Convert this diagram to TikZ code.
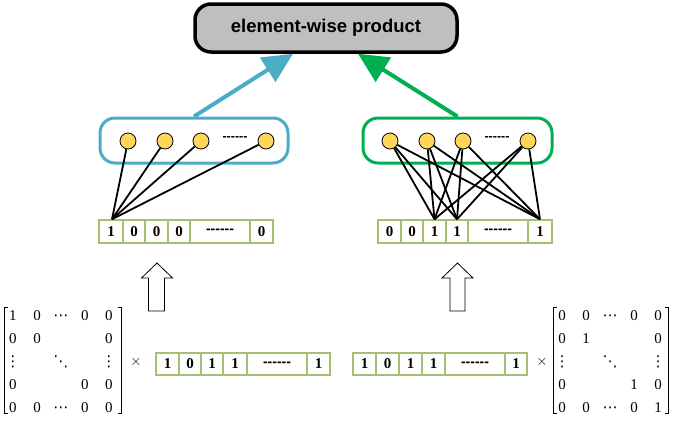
\documentclass[tikz,border=0pt]{standalone}
\usepackage{fontspec}
\setmainfont{Liberation Serif}
\newfontfamily\arialfont{Liberation Sans}
\newfontfamily\symfont{DejaVu Sans}
\usetikzlibrary{arrows.meta,matrix}
\definecolor{bluec}{HTML}{4BACC6}
\definecolor{greenc}{HTML}{00B050}
\definecolor{vecc}{HTML}{A3C170}
\definecolor{neuronc}{HTML}{FFD55A}
\definecolor{titlefill}{HTML}{BFBFBF}
\newcommand{\myvdots}{{\symfont ⋮}}
\newcommand{\myddots}{{\symfont ⋱}}
\newcommand{\mycdots}{{\symfont ⋯}}
\tikzset{
  titlebox/.style={draw=black, line width=3.5pt, fill=titlefill, rounded corners=16pt,
    minimum width=262pt, minimum height=48pt, inner sep=0,
    font=\arialfont\bfseries\fontsize{18.5}{20}\selectfont},
  layer/.style={line width=3pt, rounded corners=15pt, minimum height=45pt, inner sep=0},
  neuron/.style={circle, draw=black, line width=0.8pt, fill=neuronc, minimum size=16pt, inner sep=0},
  cell/.style={draw=vecc, line width=1.5pt, minimum height=23pt, inner sep=0,
    font=\bfseries\fontsize{15}{15}\selectfont},
  dashcell/.style={cell, font=\arialfont\bfseries\fontsize{14}{14}\selectfont},
  dashtext/.style={inner sep=0, font=\arialfont\bfseries\fontsize{12.5}{12.5}\selectfont},
  link/.style={line width=1.8pt, draw=black},
  feed/.style={line width=4pt, -{Triangle[length=30pt,width=28pt]}},
  blockarrow/.style={draw=black, line width=0.8pt, fill=white},
  bracket/.style={draw=black, line width=1pt},
  mat/.style={matrix of nodes, column sep=0pt, row sep=0pt,
    nodes={minimum width=24pt, minimum height=23pt, inner sep=0, anchor=center,
      text height=10.5pt, text depth=0pt, font=\fontsize{15}{15}\selectfont}},
  timestext/.style={inner sep=0, font=\fontsize{15}{15}\selectfont}
}
\begin{document}
\begin{tikzpicture}[x=1pt,y=-1pt]
\useasboundingbox (0,0) rectangle (675,424);

% title
\node[titlebox] (title) at (326,28) {element-wise product};

% layers
\node[layer, draw=bluec, minimum width=188pt] (bl) at (194,140.5) {};
\node[layer, draw=greenc, minimum width=189pt] (gl) at (457.5,140.5) {};

\draw[feed, bluec] (bl.north) -- ([xshift=-33pt]title.south);
\draw[feed, greenc] (gl.north) -- ([xshift=32pt]title.south);

% neurons
\node[neuron] (b1) at (128,141) {};
\node[neuron] (b2) at (165,141) {};
\node[neuron] (b3) at (201,141) {};
\node[neuron] (b4) at (266,141) {};
\node[dashtext] (bd) at (235,139) {-{}-{}-{}-{}-{}-};
\node[neuron] (g1) at (390,141) {};
\node[neuron] (g2) at (427,141) {};
\node[neuron] (g3) at (463,141) {};
\node[neuron] (g4) at (528,141) {};
\node[dashtext] (gd) at (497,139) {-{}-{}-{}-{}-{}-};

% upper vectors
\node[cell, minimum width=24pt] (L1) at (111,231.5) {1};
\node[cell, minimum width=22pt] (L2) at (134,231.5) {0};
\node[cell, minimum width=23pt] (L3) at (156.5,231.5) {0};
\node[cell, minimum width=22pt] (L4) at (179,231.5) {0};
\node[dashcell, minimum width=60pt] (L5) at (220,231.5) {-{}-{}-{}-{}-{}-};
\node[cell, minimum width=23pt] (L6) at (261.5,231.5) {0};

\node[cell, minimum width=23pt] (R1) at (389.5,231.5) {0};
\node[cell, minimum width=22pt] (R2) at (412,231.5) {0};
\node[cell, minimum width=23pt] (R3) at (434.5,231.5) {1};
\node[cell, minimum width=22pt] (R4) at (457,231.5) {1};
\node[dashcell, minimum width=60pt] (R5) at (498,231.5) {-{}-{}-{}-{}-{}-};
\node[cell, minimum width=24pt] (R6) at (540,231.5) {1};

% links
\foreach \n in {b1,b2,b3,b4} \draw[link] ([xshift=1pt]L1.north) -- (\n);
\foreach \c in {R3,R4,R6} \foreach \n in {g1,g2,g3,g4} \draw[link] (\c.north) -- (\n);

% block arrows
\draw[blockarrow] (157,263) -- (172.5,278) -- (164.5,278) -- (164.5,311) -- (148.5,311)
  -- (148.5,278) -- (141.5,278) -- cycle;
\draw[blockarrow] (457.5,263) -- (473,278) -- (465,278) -- (465,311) -- (450,311)
  -- (450,278) -- (442,278) -- cycle;

% lower vectors
\node[cell, minimum width=23pt, minimum height=22pt] (A1) at (167.5,364) {1};
\node[cell, minimum width=22pt, minimum height=22pt] (A2) at (190,364) {0};
\node[cell, minimum width=22pt, minimum height=22pt] (A3) at (212,364) {1};
\node[cell, minimum width=24pt, minimum height=22pt] (A4) at (235,364) {1};
\node[dashcell, minimum width=60pt, minimum height=22pt] (A5) at (277,364) {-{}-{}-{}-{}-{}-};
\node[cell, minimum width=23pt, minimum height=22pt] (A6) at (318.5,364) {1};

\node[cell, minimum width=23pt, minimum height=22pt] (B1) at (364.5,364) {1};
\node[cell, minimum width=23pt, minimum height=22pt] (B2) at (387.5,364) {0};
\node[cell, minimum width=23pt, minimum height=22pt] (B3) at (410.5,364) {1};
\node[cell, minimum width=23pt, minimum height=22pt] (B4) at (433.5,364) {1};
\node[dashcell, minimum width=60pt, minimum height=22pt] (B5) at (475,364) {-{}-{}-{}-{}-{}-};
\node[cell, minimum width=22pt, minimum height=22pt] (B6) at (516,364) {1};

% times signs
\node[timestext] (tl) at (136,362) {$\times$};
\node[timestext] (tr) at (542,362) {$\times$};

% left matrix
\matrix[mat] (ML) at (61,361) {
1 & 0 & \mycdots & 0 & 0\\
0 & 0 & & & 0\\
\myvdots & & \myddots & & \myvdots\\
0 & & & 0 & 0\\
0 & 0 & \mycdots & 0 & 0\\
};
\draw[bracket] (7.5,307) -- (4,307) -- (4,413) -- (7.5,413);
\draw[bracket] (117.5,307) -- (121,307) -- (121,413) -- (117.5,413);

% right matrix
\matrix[mat] (MR) at (610,361) {
0 & 0 & \mycdots & 0 & 0\\
0 & 1 & & & 0\\
\myvdots & & \myddots & & \myvdots\\
0 & & & 1 & 0\\
0 & 0 & \mycdots & 0 & 1\\
};
\draw[bracket] (556.5,307) -- (553,307) -- (553,413) -- (556.5,413);
\draw[bracket] (664.5,307) -- (668,307) -- (668,413) -- (664.5,413);
\end{tikzpicture}
\end{document}
